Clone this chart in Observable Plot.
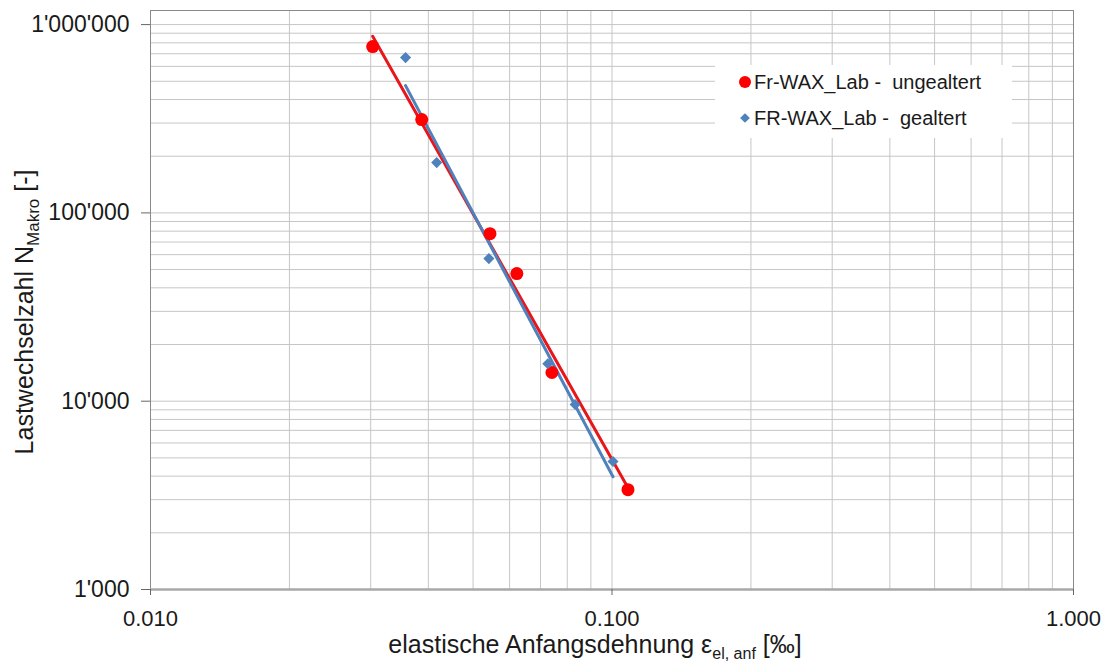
<!DOCTYPE html>
<html>
<head>
<meta charset="utf-8">
<script src="https://cdn.jsdelivr.net/npm/d3@7"></script>
<script src="https://cdn.jsdelivr.net/npm/@observablehq/plot@0.6"></script>
<style>
  body { margin: 0; background: #fff; }
  #chart { position: relative; width: 1120px; height: 668px; }
</style>
</head>
<body>
<div id="chart"></div>
<script>
// ---- data ----
const seriesNames = ["Fr-WAX_Lab -  ungealtert", "FR-WAX_Lab -  gealtert"];
const strainUngealtert = [0.0303, 0.0387, 0.0544, 0.0622, 0.0741, 0.1083];
const cyclesUngealtert = [764000, 313000, 77600, 47600, 14200, 3390];
const strainGealtert = [0.0357, 0.0417, 0.0541, 0.0726, 0.0832, 0.1005];
const cyclesGealtert = [668000, 185000, 57200, 15800, 9600, 4780];

const xTickValues = [0.01, 0.1, 1];
const xTickLabels = ["0.010", "0.100", "1.000"];
const yTickValues = [1000, 10000, 100000, 1000000];
const yTickLabels = ["1'000", "10'000", "100'000", "1'000'000"];
const gridMultipliers = [1, 2, 3, 4, 5, 6, 7, 8, 9];
const xDecades = [0.01, 0.1];
const yDecades = [1000, 10000, 100000];

const xTitle = "elastische Anfangsdehnung ";
const yTitle = "Lastwechselzahl N";

// ---- build tables ----
const ung = strainUngealtert.map((x, i) => ({x, y: cyclesUngealtert[i]}));
const gea = strainGealtert.map((x, i) => ({x, y: cyclesGealtert[i]}));
const xGrid = xDecades.flatMap(d => gridMultipliers.map(m => d * m)).concat([1]);
const yGrid = yDecades.flatMap(d => gridMultipliers.map(m => d * m)).concat([1000000]);

const RED = "#ff0000", RED_LINE = "#e8161b", BLUE = "#4f81bd";
const FONT = "'Liberation Sans', Arial, sans-serif";

const plot = Plot.plot({
  width: 1120,
  height: 668,
  marginLeft: 150,
  marginRight: 47,
  marginTop: 10,
  marginBottom: 79,
  style: {fontFamily: FONT, background: "#fff", color: "#1a1a1a"},
  x: {type: "log", domain: [0.01, 1], label: null},
  y: {type: "log", domain: [1000, 1.188e6], label: null},
  marks: [
    Plot.gridX(xGrid, {stroke: "#c6c6c6", strokeOpacity: 1, strokeWidth: 1}),
    Plot.gridY(yGrid, {stroke: "#c6c6c6", strokeOpacity: 1, strokeWidth: 1}),
    Plot.frame({stroke: "#8a8a8a", strokeWidth: 1}),
    Plot.ruleY([1000], {stroke: "#a8a8a8", strokeWidth: 2.5}),
    Plot.axisY(yTickValues, {
      tickFormat: d => yTickLabels[yTickValues.indexOf(d)],
      fontSize: 23, tickSize: 9, tickPadding: 12, label: null,
      stroke: "#666", fill: "#1a1a1a"
    }),
    Plot.axisX(xTickValues, {
      tickFormat: d => xTickLabels[xTickValues.indexOf(d)],
      fontSize: 22, tickSize: 6, tickPadding: 15, label: null,
      stroke: "#666", fill: "#1a1a1a"
    }),
    Plot.linearRegressionY(ung, {x: "x", y: "y", ci: 0, stroke: RED_LINE, strokeWidth: 3}),
    Plot.linearRegressionY(gea, {x: "x", y: "y", ci: 0, stroke: BLUE, strokeWidth: 3}),
    Plot.dot(ung, {x: "x", y: "y", r: 6.5, fill: RED, stroke: "none"}),
    Plot.dot(gea, {x: "x", y: "y", r: 5, symbol: "diamond2", fill: BLUE, stroke: "none"})
  ]
});

document.getElementById("chart").appendChild(plot);

// ---- titles and legend ----
const svg = d3.select(plot);

// y title
const yt = svg.append("text")
  .attr("transform", "translate(33,312) rotate(-90)")
  .attr("text-anchor", "middle")
  .attr("font-family", FONT)
  .attr("font-size", 25)
  .attr("fill", "#1a1a1a")
  .style("white-space", "pre");
yt.append("tspan").text(yTitle);
yt.append("tspan").attr("font-size", 17).attr("dy", 6).text("Makro");
yt.append("tspan").attr("dy", -6).text(" [-]");

// x title
const xt = svg.append("text")
  .attr("x", 595)
  .attr("y", 653)
  .attr("text-anchor", "middle")
  .attr("font-family", FONT)
  .attr("font-size", 25)
  .attr("fill", "#1a1a1a")
  .style("white-space", "pre");
xt.append("tspan").text(xTitle);
xt.append("tspan").text("ε");
xt.append("tspan").attr("font-size", 16).attr("dy", 6).text("el, anf");
xt.append("tspan").attr("dy", -6).text(" [‰]");

// legend
const lg = svg.append("g");
lg.append("rect").attr("x", 715).attr("y", 65).attr("width", 297).attr("height", 73).attr("fill", "#fff");
lg.append("circle").attr("cx", 745).attr("cy", 82).attr("r", 6).attr("fill", RED);
lg.append("path")
  .attr("transform", "translate(745,118)")
  .attr("d", d3.symbol(d3.symbolDiamond2, 60)())
  .attr("fill", BLUE);
const legendRows = [{y: 89}, {y: 125}];
seriesNames.forEach((name, i) => {
  lg.append("text")
    .attr("x", 754)
    .attr("y", legendRows[i].y)
    .attr("text-anchor", "start")
    .attr("font-family", FONT)
    .attr("font-size", 20)
    .attr("fill", "#1a1a1a")
    .style("white-space", "pre")
    .text(name);
});
</script>
</body>
</html>
